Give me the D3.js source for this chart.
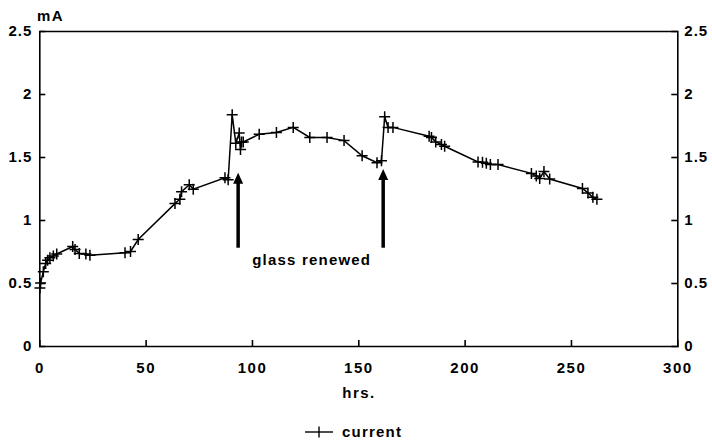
<!DOCTYPE html>
<html>
<head>
<meta charset="utf-8">
<script src="https://cdn.jsdelivr.net/npm/d3@7"></script>
<style>
  html, body { margin: 0; padding: 0; background: #fff; }
  svg { display: block; }
  text { font-family: "Liberation Sans", Arial, Helvetica, sans-serif; font-weight: bold; fill: #000; letter-spacing: 1.5px; }
</style>
</head>
<body>
<svg id="chart" width="712" height="442"></svg>
<script>
// ---- data ----
const hours = [0.3, 0.6, 1.9, 3.0, 3.9, 5.0, 6.6, 8.2, 15.7, 16.8, 18.8, 21.9, 23.8,
  40.3, 42.9, 46.5, 63.8, 66.1, 66.9, 70.5, 72.4, 87.3, 88.8, 90.7, 92.4, 94.0, 94.6,
  95.1, 95.9, 103.4, 111.5, 119.4, 127.2, 135.3, 143.3, 151.8, 158.8, 160.9, 162.4,
  164.0, 166.3, 183.3, 184.4, 186.4, 189.1, 190.6, 206.3, 208.4, 210.2, 212.1, 215.7,
  231.4, 233.7, 235.3, 237.3, 240.0, 255.4, 258.0, 260.3, 262.2];
const current = [0.46, 0.50, 0.59, 0.655, 0.68, 0.70, 0.715, 0.73, 0.79, 0.765, 0.735, 0.73, 0.72,
  0.74, 0.75, 0.845, 1.13, 1.165, 1.225, 1.28, 1.245, 1.335, 1.32, 1.835, 1.61, 1.69, 1.56,
  1.62, 1.62, 1.68, 1.695, 1.735, 1.655, 1.655, 1.63, 1.51, 1.455, 1.47, 1.82,
  1.735, 1.735, 1.665, 1.655, 1.62, 1.60, 1.585, 1.46, 1.458, 1.45, 1.44, 1.44,
  1.37, 1.35, 1.33, 1.385, 1.325, 1.25, 1.215, 1.18, 1.165];
const xTicks = [0, 50, 100, 150, 200, 250, 300];
const yTicks = [0, 0.5, 1, 1.5, 2, 2.5];
const xDomain = [0, 300];
const yDomain = [0, 2.5];
const seriesName = "current";
const xTitle = "hrs.";
const yTitle = "mA";
// annotation arrows (hours, from mA, to mA)
const arrowHours = [93.5, 161.7];
const arrowFrom = [0.78, 0.78];
const arrowTo = [1.375, 1.405];
const annotationText = "glass renewed";
const annotationPos = [128.1, 0.64];

// ---- layout ----
const svg = d3.select("#chart");
const L = 39.3, R = 677.3, T = 31, B = 346;
const x = d3.scaleLinear().domain(xDomain).range([L, R]);
const y = d3.scaleLinear().domain(yDomain).range([B, T]);
const FS = 15;

svg.append("rect").attr("width", 712).attr("height", 442).attr("fill", "#fff");

const fmt = d => d3.format("")(d);

// bottom axis
const xAxis = svg.append("g").attr("transform", `translate(0,${B})`)
  .call(d3.axisBottom(x).tickValues(xTicks).tickSize(-6).tickPadding(16).tickFormat(fmt));
// left axis
const yAxisL = svg.append("g").attr("transform", `translate(${L},0)`)
  .call(d3.axisLeft(y).tickValues(yTicks).tickSize(-6).tickPadding(7).tickFormat(fmt));
// right axis
const yAxisR = svg.append("g").attr("transform", `translate(${R},0)`)
  .call(d3.axisRight(y).tickValues(yTicks).tickSize(-6).tickPadding(7).tickFormat(fmt));
// top frame
const yAxisT = svg.append("g").attr("transform", `translate(0,${T})`)
  .call(d3.axisTop(x).tickValues([]).tickSizeOuter(0));

[xAxis, yAxisL, yAxisR, yAxisT].forEach(g => {
  g.select(".domain").attr("stroke", "#000").attr("stroke-width", 1.6);
  g.selectAll(".tick line").attr("stroke", "#000").attr("stroke-width", 1.6);
  g.selectAll(".tick text").attr("font-size", FS).attr("font-weight", "bold")
    .attr("font-family", "Liberation Sans, Arial, sans-serif").attr("fill", "#000");
});
yAxisR.selectAll(".tick text").style("letter-spacing", "1px");
yAxisL.selectAll(".tick text").style("letter-spacing", "1px");
xAxis.selectAll(".tick").filter(d => d === 0 || d === 300).select("line").remove();
yAxisL.selectAll(".tick").filter(d => d === 0 || d === 2.5).select("line").remove();
yAxisR.selectAll(".tick").filter(d => d === 0 || d === 2.5).select("line").remove();

// axis titles
svg.append("text").attr("x", 37).attr("y", 21).attr("font-size", FS).text(yTitle);
svg.append("text").attr("x", 359).attr("y", 398).attr("font-size", FS)
  .attr("text-anchor", "middle").text(xTitle);

// series
const pts = hours.map((h, i) => [h, current[i]]);
const line = d3.line().x(d => x(d[0])).y(d => y(d[1]));
svg.append("path").datum(pts).attr("d", line)
  .attr("fill", "none").attr("stroke", "#000").attr("stroke-width", 1.5);

const ms = 5.5;
svg.append("g").selectAll("path").data(pts).join("path")
  .attr("d", d => `M${x(d[0]) - ms},${y(d[1])}H${x(d[0]) + ms}M${x(d[0])},${y(d[1]) - ms}V${y(d[1]) + ms}`)
  .attr("stroke", "#000").attr("stroke-width", 1.5).attr("fill", "none");

// arrows
arrowHours.forEach((h, i) => {
  svg.append("line")
    .attr("x1", x(h)).attr("x2", x(h))
    .attr("y1", y(arrowFrom[i])).attr("y2", y(arrowTo[i]) + 8)
    .attr("stroke", "#000").attr("stroke-width", 3.5);
  svg.append("path")
    .attr("d", `M${x(h) - 5},${y(arrowTo[i]) + 11}L${x(h)},${y(arrowTo[i])}L${x(h) + 5},${y(arrowTo[i]) + 11}Z`)
    .attr("fill", "#000");
});
svg.append("text").attr("x", x(annotationPos[0])).attr("y", y(annotationPos[1]))
  .attr("text-anchor", "middle").attr("font-size", FS).style("letter-spacing", "1.2px").text(annotationText);

// legend
const lg = svg.append("g");
lg.append("line").attr("x1", 305).attr("x2", 333).attr("y1", 432).attr("y2", 432)
  .attr("stroke", "#000").attr("stroke-width", 1.4);
lg.append("path").attr("d", `M319,${432 - ms}V${432 + ms}`).attr("stroke", "#000").attr("stroke-width", 1.4);
lg.append("text").attr("x", 342).attr("y", 437).attr("font-size", FS).style("letter-spacing", "1.2px").text(seriesName);
</script>
</body>
</html>
